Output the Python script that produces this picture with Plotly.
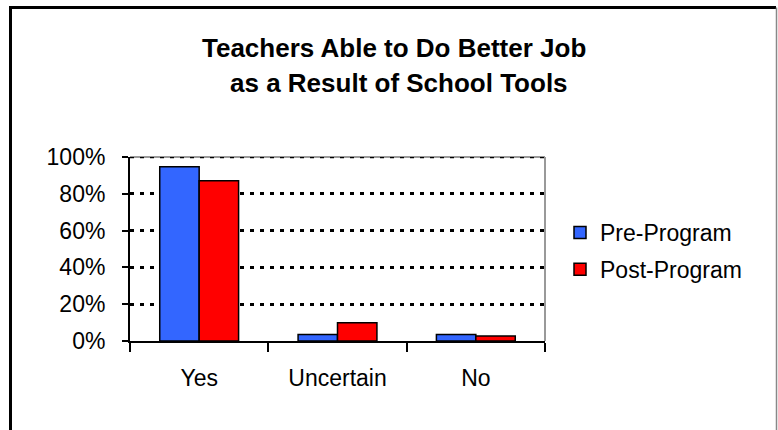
import plotly.graph_objects as go

categories = ["Yes", "Uncertain", "No"]
pre_program = [94.7, 3.6, 3.6]
post_program = [87.1, 9.9, 2.7]
series_names = ["Pre-Program", "Post-Program"]
y_ticks = [0, 20, 40, 60, 80, 100]
y_tick_labels = ["0%", "20%", "40%", "60%", "80%", "100%"]
title_lines = ["Teachers Able to Do Better Job", "as a Result of School Tools"]

W, H = 778, 430
L, R, T, B = 130, 545, 157, 341  # plot area in pixels

def px(x):
    return (x - L) / (R - L)

def py(y):
    return (B - y) / (B - T)

FONT = "Liberation Sans, Arial, sans-serif"
FS = 23

fig = go.Figure()
fig.add_trace(go.Bar(x=categories, y=pre_program, name=series_names[0],
                     marker=dict(color="#3366FF", line=dict(color="black", width=1.5)),
                     legendgroup="a"))
fig.add_trace(go.Bar(x=categories, y=post_program, name=series_names[1],
                     marker=dict(color="#FF0000", line=dict(color="black", width=1.5)),
                     legendgroup="b"))

fig.update_layout(
    width=W, height=H,
    margin=dict(l=L, r=W - R, t=T, b=H - B, pad=0, autoexpand=False),
    paper_bgcolor="white", plot_bgcolor="white",
    font=dict(family=FONT, size=FS, color="black"),
    barmode="group", bargap=0.43, bargroupgap=0,
    legend=dict(x=px(560), y=py(211), xanchor="left", yanchor="top",
                font=dict(family=FONT, size=FS), tracegroupgap=4,
                bgcolor="rgba(0,0,0,0)"),
    showlegend=True,
)

# title as two centred lines
fig.add_annotation(text="<b>" + title_lines[0] + "</b>", xref="paper", yref="paper",
                   x=px(394), y=py(48), xanchor="center", yanchor="middle",
                   showarrow=False, font=dict(family=FONT, size=26, color="black"))
fig.add_annotation(text="<b>" + title_lines[1] + "</b>", xref="paper", yref="paper",
                   x=px(399), y=py(83), xanchor="center", yanchor="middle",
                   showarrow=False, font=dict(family=FONT, size=26, color="black"))

fig.update_xaxes(type="category", showline=True, linecolor="black", linewidth=2,
                 ticks="outside", tickson="boundaries", ticklen=9, tickwidth=2,
                 tickcolor="black", showgrid=False, ticklabelstandoff=15,
                 tickfont=dict(family=FONT, size=FS))
fig.update_yaxes(range=[0, y_ticks[-1]], tickvals=y_ticks, ticktext=y_tick_labels,
                 showline=True, linecolor="black", linewidth=2,
                 ticks="outside", ticklen=6, tickwidth=2, tickcolor="black",
                 showgrid=True, gridcolor="black", gridwidth=2.5, griddash="4px,6px",
                 zeroline=False, ticklabelstandoff=12,
                 tickfont=dict(family=FONT, size=FS))

# plot area top/right gray border
fig.add_shape(type="line", xref="paper", yref="paper", x0=0, x1=1, y0=1, y1=1,
              line=dict(color="#999999", width=2), layer="below")
fig.add_shape(type="line", xref="paper", yref="paper", x0=1, x1=1, y0=0, y1=1,
              line=dict(color="#999999", width=2), layer="below")
# dotted gridline at the top tick (hidden by plotly at the range edge)
fig.add_shape(type="line", xref="paper", yref="y", x0=0, x1=1,
              y0=y_ticks[-1], y1=y_ticks[-1],
              line=dict(color="black", width=2.5, dash="4px,6px"))
# outer chart frame
fig.add_shape(type="line", xref="paper", yref="paper", x0=px(10.5), x1=px(10.5),
              y0=py(7.5), y1=py(440), line=dict(color="black", width=3))
fig.add_shape(type="line", xref="paper", yref="paper", x0=px(9), x1=px(776),
              y0=py(7.5), y1=py(7.5), line=dict(color="black", width=3))
fig.add_shape(type="line", xref="paper", yref="paper", x0=px(776.5), x1=px(776.5),
              y0=py(7.5), y1=py(440), line=dict(color="#888888", width=1.5))

fig.write_html("out.html", config={"displayModeBar": False},
               post_script="document.body.style.margin='0px';")
